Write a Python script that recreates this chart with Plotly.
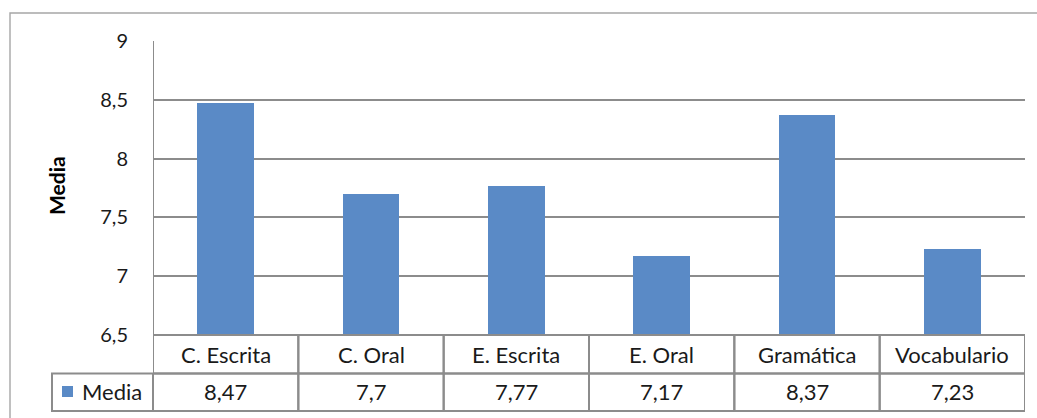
import plotly.graph_objects as go

# Chart data
categories = ["C. Escrita", "C. Oral", "E. Escrita", "E. Oral", "Gramática", "Vocabulario"]
media = [8.47, 7.7, 7.77, 7.17, 8.37, 7.23]
series_name = "Media"
y_ticks = [6.5, 7, 7.5, 8, 8.5, 9]

BAR = "#5A8AC6"
GRID = "#8c8c8c"
FRAME = "#a6a6a6"
TEXT = "#1a1a1a"
FONT = "Lato, 'Open Sans', sans-serif"
FS_TABLE = 22
FS_TICK = 20

W, H = 1037, 418
ML, MR, MT, MB = 153, 12, 41, 83
PW, PH = W - ML - MR, H - MT - MB


def px_to_paper_x(px):
    return (px - ML) / PW


def px_to_paper_y(py):
    return (H - MB - py) / PH


def fmt(v):
    return f"{v:g}".replace(".", ",")


x = list(range(len(categories)))

fig = go.Figure(
    go.Bar(
        x=x,
        y=media,
        base=0,
        width=0.39,
        marker=dict(color=BAR, line=dict(width=0)),
        name=series_name,
        showlegend=False,
    )
)

row1_bottom = px_to_paper_y(373.5)
row2_bottom = px_to_paper_y(411)
legend_left = px_to_paper_x(52)
n = len(categories)

shapes = []
cell_line = dict(color=GRID, width=2)

# outer chart frame
shapes.append(dict(type="rect", xref="paper", yref="paper",
                   x0=px_to_paper_x(10), x1=px_to_paper_x(1045),
                   y0=px_to_paper_y(430), y1=px_to_paper_y(13),
                   line=dict(color=FRAME, width=1.4), layer="below"))

# data table cells: category row and value row
for i in range(n):
    shapes.append(dict(type="rect", xref="x", yref="paper",
                       x0=i - 0.5, x1=i + 0.5, y0=row1_bottom, y1=0,
                       line=cell_line))
    shapes.append(dict(type="rect", xref="x", yref="paper",
                       x0=i - 0.5, x1=i + 0.5, y0=row2_bottom, y1=row1_bottom,
                       line=cell_line))
# series-name cell
shapes.append(dict(type="rect", xref="paper", yref="paper",
                   x0=legend_left, x1=0, y0=row2_bottom, y1=row1_bottom,
                   line=cell_line))
# left edge of the plot area
shapes.append(dict(type="line", xref="x", yref="paper", x0=-0.5, x1=-0.5,
                   y0=0, y1=1, line=cell_line))

# legend key in the table
shapes.append(dict(type="rect", xref="paper", yref="paper",
                   x0=px_to_paper_x(62), x1=px_to_paper_x(73),
                   y0=px_to_paper_y(397), y1=px_to_paper_y(386),
                   fillcolor=BAR, line=dict(width=0)))

annotations = []
row1_mid = px_to_paper_y(354)
row2_mid = px_to_paper_y(392)
cell_font = dict(size=FS_TABLE, color=TEXT, family=FONT)
for xi, cat, v in zip(x, categories, media):
    annotations.append(dict(x=xi, y=row1_mid, xref="x", yref="paper", text=cat,
                            xanchor="center", yanchor="middle",
                            showarrow=False, font=cell_font))
    annotations.append(dict(x=xi, y=row2_mid, xref="x", yref="paper", text=fmt(v),
                            xanchor="center", yanchor="middle",
                            showarrow=False, font=cell_font))
annotations.append(dict(x=px_to_paper_x(80), y=row2_mid, xref="paper", yref="paper",
                        text=series_name, showarrow=False,
                        xanchor="left", yanchor="middle", font=cell_font))
# y-axis title
annotations.append(dict(x=px_to_paper_x(56), y=px_to_paper_y(186), xref="paper", yref="paper",
                        text="<b>Media</b>", textangle=-90, showarrow=False,
                        xanchor="center", yanchor="middle",
                        font=dict(size=21, color="#000000", family=FONT)))

fig.update_layout(
    width=W, height=H,
    margin=dict(l=ML, r=MR, t=MT, b=MB),
    paper_bgcolor="white",
    plot_bgcolor="white",
    separators=",.",
    bargap=0,
    font=dict(family=FONT, size=FS_TICK, color=TEXT),
    xaxis=dict(range=[-0.5, n - 0.5], showticklabels=False, showgrid=False,
               zeroline=False, showline=False, ticks=""),
    yaxis=dict(range=[6.5, 9], tickvals=y_ticks, ticktext=[fmt(t) for t in y_ticks],
               showgrid=True, gridcolor=GRID, gridwidth=2, zeroline=False,
               showline=False, ticks="", ticklabelstandoff=24,
               tickfont=dict(size=FS_TICK, color=TEXT, family=FONT)),
    shapes=shapes,
    annotations=annotations,
)

fig.write_html("out.html")
